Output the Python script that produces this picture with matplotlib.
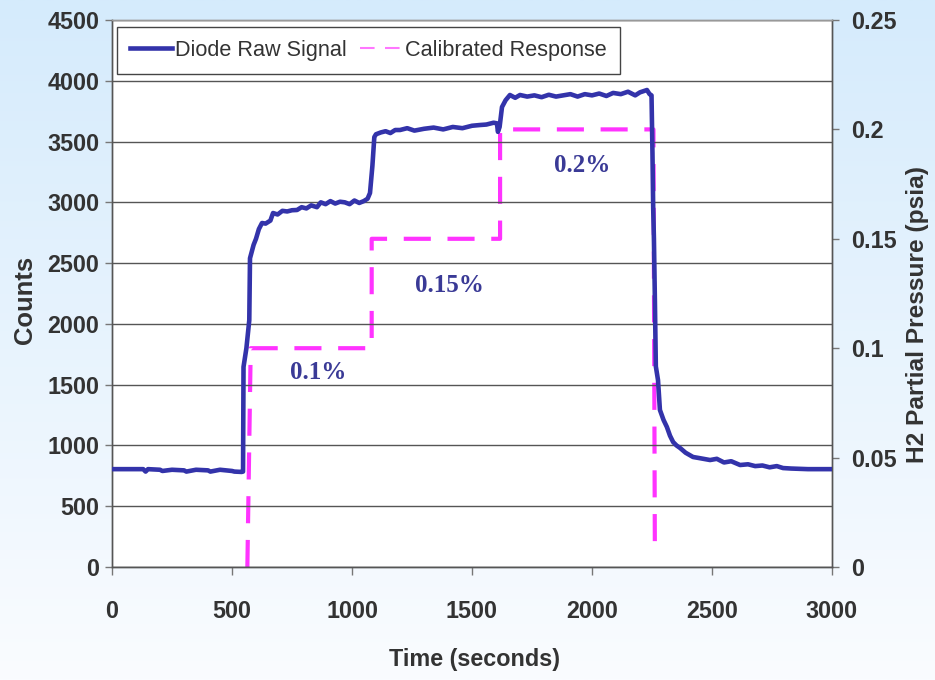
import numpy as np
import matplotlib
matplotlib.use("Agg")
import matplotlib.pyplot as plt
from matplotlib import font_manager
from matplotlib.lines import Line2D
from matplotlib.colors import LinearSegmentedColormap

# ---------------- data ----------------
time_s = [0, 60, 130, 140, 150, 200, 210, 250, 300, 310, 350, 400, 410, 450, 500, 510, 540,
          546, 548, 560, 572, 575, 590, 600, 612, 625, 640, 660, 671, 690, 710, 730, 750,
          771, 790, 810, 830, 854, 870, 890, 910, 930, 950, 970, 990, 1010, 1030, 1049,
          1065, 1075, 1085, 1093, 1100, 1120, 1140, 1160, 1180, 1200, 1230, 1260, 1300,
          1340, 1380, 1420, 1460, 1500, 1533, 1560, 1590, 1604, 1608, 1615, 1625, 1640,
          1658, 1680, 1700, 1730, 1760, 1790, 1820, 1850, 1880, 1910, 1940, 1970, 2000,
          2030, 2060, 2088, 2120, 2150, 2180, 2200, 2229, 2240, 2248, 2252, 2255, 2258,
          2262, 2266, 2275, 2283, 2298, 2312, 2325, 2338, 2352, 2367, 2390, 2421, 2450,
          2492, 2520, 2550, 2580, 2617, 2650, 2680, 2710, 2740, 2770, 2796, 2830, 2900,
          3000]
counts = [805, 805, 805, 785, 805, 800, 790, 800, 795, 785, 800, 795, 785, 800, 790, 785, 782,
          785, 1646, 1800, 2030, 2540, 2650, 2700, 2780, 2830, 2825, 2850, 2912, 2900, 2930,
          2925, 2935, 2937, 2960, 2950, 2975, 2960, 3000, 2985, 3010, 2990, 3005, 3000,
          2985, 3015, 2995, 3010, 3030, 3077, 3300, 3537, 3560, 3575, 3585, 3570, 3595,
          3595, 3610, 3590, 3605, 3615, 3600, 3620, 3610, 3630, 3636, 3640, 3655, 3650,
          3580, 3620, 3784, 3840, 3883, 3860, 3883, 3870, 3880, 3865, 3885, 3870, 3880,
          3890, 3870, 3890, 3880, 3895, 3875, 3900, 3890, 3910, 3880, 3905, 3924, 3890,
          3880, 3400, 2950, 2700, 2200, 1650, 1538, 1292, 1210, 1152, 1080, 1028, 1000,
          979, 940, 905, 895, 880, 890, 860, 870, 839, 845, 830, 835, 820, 830, 814, 810,
          805, 805]

cal_time = [564, 578, 1082, 1082, 1617, 1617, 2256, 2262]
cal_psia = [0.0, 0.1, 0.1, 0.15, 0.15, 0.2, 0.2, 0.005]

notes = ["0.1%", "0.15%", "0.2%"]
note_x = [858, 1408, 1958]
note_y = [1604, 2312, 3307]

x_ticks = [0, 500, 1000, 1500, 2000, 2500, 3000]
y_ticks = [0, 500, 1000, 1500, 2000, 2500, 3000, 3500, 4000, 4500]
y2_ticks = [0, 0.05, 0.1, 0.15, 0.2, 0.25]
y2_labels = ["0", "0.05", "0.1", "0.15", "0.2", "0.25"]

# ---------------- fonts ----------------
avail = {f.name for f in font_manager.fontManager.ttflist}
if "Liberation Sans Narrow" in avail:
    SANS = ["Liberation Sans Narrow", "DejaVu Sans"]
    k = 1.0
else:
    SANS = ["Liberation Sans", "DejaVu Sans"]
    k = 0.84
SERIF = ["Liberation Serif", "DejaVu Serif"]

TXT = "#333333"
BLUE = "#3333AA"
PINK = "#FF33FF"

fig = plt.figure(figsize=(9.35, 6.8), dpi=100)

# gradient background
bg = fig.add_axes([0, 0, 1, 1], zorder=-10)
grad = np.linspace(0, 1, 256).reshape(-1, 1)
cmap = LinearSegmentedColormap.from_list("bg", ["#FAFCFF", "#D5EBFC"])
bg.imshow(grad, aspect="auto", cmap=cmap, origin="lower", extent=[0, 1, 0, 1])
bg.set_axis_off()

ax = fig.add_axes([112 / 935, 1 - 567 / 680, 720 / 935, 547 / 680])
ax2 = ax.twinx()

ax.set_xlim(0, 3000)
ax.set_ylim(0, 4500)
ax2.set_ylim(0, 0.25)

ax.yaxis.grid(True, color="#555555", lw=1.0)
ax.set_axisbelow(True)

ax.plot(time_s, counts, color=BLUE, lw=3.3, solid_joinstyle="round", zorder=3)
ax2.plot(cal_time, cal_psia, color=PINK, lw=3.0, dashes=(6.5, 4.0), zorder=2)
ax.set_zorder(ax2.get_zorder() + 1)
ax.patch.set_visible(False)
ax2.patch.set_visible(True)
ax2.set_facecolor("white")

for t, x, y in zip(notes, note_x, note_y):
    ax.text(x, y, t, color="#3A3A96", fontsize=18, fontweight="bold",
            family=SERIF, ha="center", va="center", zorder=5)

ax.set_xticks(x_ticks)
ax.set_yticks(y_ticks)
ax2.set_yticks(y2_ticks)
ax2.set_yticklabels(y2_labels)

tick_fs = 20 * k
for a in (ax, ax2):
    for lab in a.get_xticklabels() + a.get_yticklabels():
        lab.set_family(SANS)
        lab.set_fontweight("bold")
        lab.set_fontsize(tick_fs)
        lab.set_color(TXT)
    for s in a.spines.values():
        s.set_color("#555555")
        s.set_linewidth(1.0)

ax.tick_params(axis="y", direction="out", length=5, width=1, color="#777777", pad=4)
ax.tick_params(axis="x", direction="out", length=6, width=1, color="#777777", pad=18)
ax2.tick_params(axis="y", direction="out", length=5, width=1, color="#777777", pad=9)
ax.spines["top"].set_color("#999999")
ax2.spines["top"].set_color("#999999")

ax.set_xlabel("Time (seconds)", family=SANS, fontweight="bold", fontsize=20 * k, color=TXT)
ax.set_ylabel("Counts", family=SANS, fontweight="bold", fontsize=22 * k, color=TXT)
ax2.set_ylabel("H2 Partial Pressure (psia)", family=SANS, fontweight="bold",
               fontsize=21 * k, color=TXT, rotation=90)
ax.xaxis.set_label_coords(0.503, -0.170)
ax.xaxis.label.set_va("center")
ax.yaxis.set_label_coords(-0.121, 0.488)
ax.yaxis.label.set_va("center")
ax2.yaxis.set_label_coords(1.119, 0.461)
ax2.yaxis.label.set_va("center")

h1 = Line2D([], [], color=BLUE, lw=3.3)
h2 = Line2D([], [], color="#FF77FF", lw=1.5, dashes=(7, 5))
leg = ax.legend([h1, h2], ["Diode Raw Signal", "Calibrated Response"],
                loc="upper left", bbox_to_anchor=(5 / 720, 1 - 7 / 547), ncol=2,
                frameon=True, fancybox=False, framealpha=1, edgecolor="#444444",
                borderaxespad=0, handlelength=1.95, handletextpad=0.1, columnspacing=0.65,
                borderpad=0.6, prop={"family": SANS, "size": 18.6 * k})
leg.get_frame().set_linewidth(1.0)
for t in leg.get_texts():
    t.set_color(TXT)
leg.set_zorder(10)

fig.savefig("out.png", dpi=100)
